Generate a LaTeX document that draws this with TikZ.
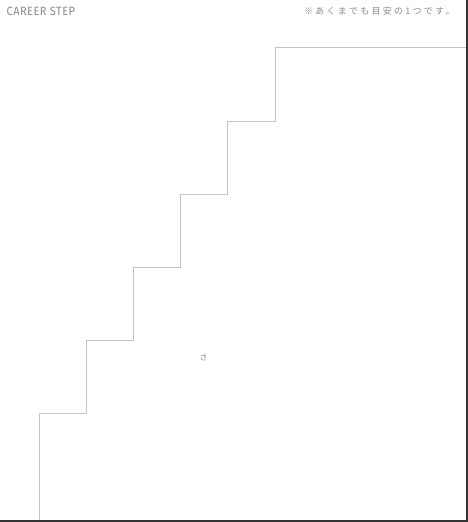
\documentclass[tikz,border=0pt]{standalone}
\usepackage{fontspec}
\setmainfont{Fira Sans}
\newfontfamily\jpfont{Noto Sans CJK JP}
\definecolor{txtgray}{HTML}{8C8C8C}
\definecolor{stepgray}{HTML}{C4C4C4}
\definecolor{edge}{HTML}{333333}
\begin{document}
\begin{tikzpicture}[x=1pt,y=-1pt,
  stairline/.style={draw=stepgray,line width=1pt},
  frameline/.style={draw=edge,line width=1.6pt},
  lbl/.style={inner sep=0pt,text=txtgray}]
\useasboundingbox (0,0) rectangle (468,522);
\fill[white] (0,0) rectangle (468,522);
% stair corners
\coordinate (s0) at (39.5,522);
\coordinate (s1) at (39.5,413);
\coordinate (s2) at (86.5,413);
\coordinate (s3) at (86.5,340.5);
\coordinate (s4) at (133.5,340.5);
\coordinate (s5) at (133.5,267.5);
\coordinate (s6) at (180.5,267.5);
\coordinate (s7) at (180.5,194.5);
\coordinate (s8) at (227.5,194.5);
\coordinate (s9) at (227.5,121.5);
\coordinate (s10) at (275.5,121.5);
\coordinate (s11) at (275.5,47.5);
\coordinate (s12) at (467,47.5);
\path[stairline] (s0) -- (s1) -- (s2) -- (s3) -- (s4) -- (s5) -- (s6) -- (s7) -- (s8) -- (s9) -- (s10) -- (s11) -- (s12);
% frame
\coordinate (f0) at (466.8,0);
\coordinate (f1) at (466.8,520.7);
\coordinate (f2) at (0,520.7);
\path[frameline] (f0) -- (f1) -- (f2);
% texts
\node[lbl,anchor=west] (title) at (6.5,11) {\fontsize{12}{12}\selectfont\addfontfeature{LetterSpace=4}\scalebox{0.92}[1]{CAREER STEP}};
\node[lbl,anchor=west] (note) at (304,11.5) {\jpfont\fontsize{9}{9}\selectfont\addfontfeature{LetterSpace=25}※あくまでも目安の1つです。};
\node[lbl] (sa) at (203.5,357) {\jpfont\fontsize{8}{8}\selectfont さ};
\end{tikzpicture}
\end{document}
